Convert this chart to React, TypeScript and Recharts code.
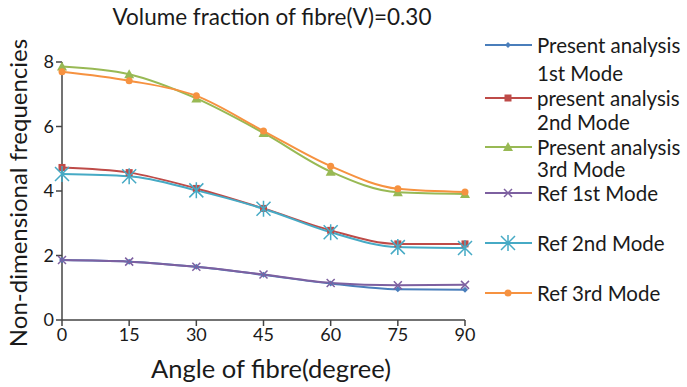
import React from 'react';
import { LineChart, Line, XAxis, YAxis } from 'recharts';

const angles = [0, 15, 30, 45, 60, 75, 90];
const present1 = [1.86, 1.81, 1.65, 1.4, 1.13, 0.95, 0.94];
const present2 = [4.73, 4.57, 4.08, 3.46, 2.78, 2.36, 2.36];
const present3 = [7.86, 7.62, 6.87, 5.8, 4.6, 3.96, 3.91];
const ref1 = [1.86, 1.81, 1.65, 1.41, 1.15, 1.08, 1.09];
const ref2 = [4.53, 4.46, 4.02, 3.45, 2.72, 2.26, 2.23];
const ref3 = [7.7, 7.42, 6.95, 5.86, 4.77, 4.07, 3.97];
const yTicks = [0, 2, 4, 6, 8];

const FONT = 'Lato, Calibri, sans-serif';

const series = [
  { key: 'p1', values: present1, color: '#4a7ebb', shape: 'diamond', label: ['Present analysis', '1st Mode'] },
  { key: 'p2', values: present2, color: '#be4b48', shape: 'square', label: ['present analysis', '2nd Mode'] },
  { key: 'p3', values: present3, color: '#98b954', shape: 'triangle', label: ['Present analysis', '3rd Mode'] },
  { key: 'r1', values: ref1, color: '#7d60a0', shape: 'x', label: ['Ref 1st Mode'] },
  { key: 'r2', values: ref2, color: '#46aac5', shape: 'star', label: ['Ref 2nd Mode'] },
  { key: 'r3', values: ref3, color: '#f69240', shape: 'circle', label: ['Ref 3rd Mode'] },
];

const data = angles.map((a, i) => {
  const row: Record<string, number> = { angle: a };
  series.forEach((s) => (row[s.key] = s.values[i]));
  return row;
});

function marker(shape: string, color: string, cx: number, cy: number, k?: string) {
  switch (shape) {
    case 'diamond':
      return <path key={k} d={`M${cx},${cy - 3}L${cx + 3},${cy}L${cx},${cy + 3}L${cx - 3},${cy}Z`} fill={color} />;
    case 'square':
      return <rect key={k} x={cx - 3.5} y={cy - 3.5} width={7} height={7} fill={color} />;
    case 'triangle':
      return <path key={k} d={`M${cx},${cy - 5}L${cx + 5},${cy + 4}L${cx - 5},${cy + 4}Z`} fill={color} />;
    case 'x':
      return (
        <path key={k} d={`M${cx - 4},${cy - 4}L${cx + 4},${cy + 4}M${cx - 4},${cy + 4}L${cx + 4},${cy - 4}`} stroke={color} strokeWidth={1.5} />
      );
    case 'star':
      return (
        <path
          key={k}
          d={`M${cx - 7},${cy - 7}L${cx + 7},${cy + 7}M${cx - 7},${cy + 7}L${cx + 7},${cy - 7}M${cx},${cy - 8}L${cx},${cy + 8}`}
          stroke={color}
          strokeWidth={1.5}
        />
      );
    default:
      return <circle key={k} cx={cx} cy={cy} r={3.5} fill={color} />;
  }
}

function makeDot(shape: string, color: string) {
  return (props: any) => {
    const { cx, cy, index } = props;
    if (cx == null || cy == null) return <g key={index} />;
    return marker(shape, color, cx, cy, `d-${index}`);
  };
}

function LegendBox() {
  const markerY = [45, 98, 147, 193, 243, 293];
  const subGap = [28, 24, 22, 0, 0, 0];
  return (
    <div style={{ position: 'absolute', left: 482, top: 0, width: 205, height: 387, fontFamily: FONT, fontSize: 20.5, color: '#1a1a1a' }}>
      {series.map((s, i) => (
        <div key={s.key} style={{ position: 'absolute', left: 0, top: markerY[i] - 9 }}>
          <svg width={54} height={18} style={{ position: 'absolute', left: 0, top: 0 }}>
            <line x1={3} y1={9} x2={50} y2={9} stroke={s.color} strokeWidth={2} />
            {marker(s.shape, s.color, 26, 9)}
          </svg>
          {s.label.map((t, j) => (
            <div key={j} style={{ position: 'absolute', left: 55, top: j * subGap[i], whiteSpace: 'nowrap', lineHeight: '18px' }}>
              {t}
            </div>
          ))}
        </div>
      ))}
    </div>
  );
}

export default function App() {
  return (
    <div style={{ position: 'absolute', left: 0, top: 0, width: 687, height: 387, background: '#fff' }}>
      <LineChart width={687} height={387} data={data} margin={{ top: 62, right: 222, bottom: 0, left: 0 }}>
        <text x={272} y={25} textAnchor="middle" fontFamily={FONT} fontSize={22.5} fill="#1a1a1a">
          Volume fraction of fibre(V)=0.30
        </text>
        <XAxis
          dataKey="angle"
          type="number"
          domain={[0, 90]}
          ticks={angles}
          height={67}
          stroke="#444"
          strokeWidth={1.5}
          tickSize={6}
          tick={{ fill: '#1a1a1a', fontSize: 18, fontFamily: FONT }}
          label={{
            content: () => (
              <text x={271} y={378} textAnchor="middle" fontFamily={FONT} fontSize={25.5} fill="#1a1a1a">
                Angle of fibre(degree)
              </text>
            ),
          }}
        />
        <YAxis
          type="number"
          domain={[0, 8]}
          ticks={yTicks}
          width={62}
          stroke="#444"
          strokeWidth={1.5}
          tickSize={6}
          tick={{ fill: '#1a1a1a', fontSize: 18, fontFamily: FONT }}
          label={{
            content: () => (
              <text x={27} y={193} transform="rotate(-90 27 193)" textAnchor="middle" fontFamily={FONT} fontSize={24} fill="#1a1a1a">
                Non-dimensional frequencies
              </text>
            ),
          }}
        />
        {series.map((s) => (
          <Line
            key={s.key}
            dataKey={s.key}
            type="monotone"
            stroke={s.color}
            strokeWidth={2}
            dot={makeDot(s.shape, s.color)}
            activeDot={false}
            isAnimationActive={false}
          />
        ))}
      </LineChart>
      <LegendBox />
    </div>
  );
}
